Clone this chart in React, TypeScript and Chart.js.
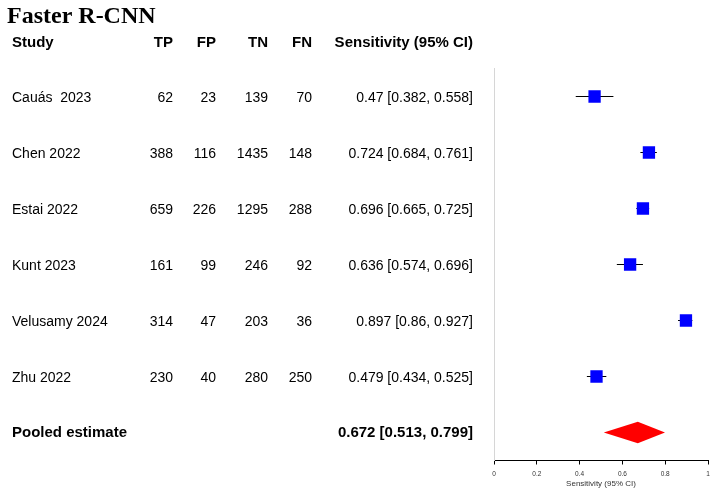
import React, { useEffect, useRef } from "react";
import { Chart, registerables } from "chart.js";

Chart.register(...registerables);

const chartTitle = "Faster R-CNN";
const headers = ["Study", "TP", "FP", "TN", "FN", "Sensitivity (95% CI)"];
const studies = ["Cauás  2023", "Chen 2022", "Estai 2022", "Kunt 2023", "Velusamy 2024", "Zhu 2022"];
const tp = [62, 388, 659, 161, 314, 230];
const fp = [23, 116, 226, 99, 47, 40];
const tn = [139, 1435, 1295, 246, 203, 280];
const fn = [70, 148, 288, 92, 36, 250];
const sensitivity = [0.47, 0.724, 0.696, 0.636, 0.897, 0.479];
const lowerCI = [0.382, 0.684, 0.665, 0.574, 0.86, 0.434];
const upperCI = [0.558, 0.761, 0.725, 0.696, 0.927, 0.525];
const pooledLabel = "Pooled estimate";
const pooledEstimate = 0.672;
const pooledLower = 0.513;
const pooledUpper = 0.799;
const xTicks = [0, 0.2, 0.4, 0.6, 0.8, 1];
const xTickLabels = ["0", "0.2", "0.4", "0.6", "0.8", "1"];
const xAxisTitle = "Sensitivity (95% CI)";

// style constants
const DIAMOND_HALF = 0.19;
const SANS = '"Liberation Sans", Arial, Helvetica, sans-serif';
const COL_X = [12, 173, 216, 268, 312, 473];

const fmtCI = (v: number, lo: number, hi: number) => `${v} [${lo}, ${hi}]`;

const tablePlugin = {
  id: "forestTable",
  afterDraw(chart: any) {
    const ctx: CanvasRenderingContext2D = chart.ctx;
    const ys = chart.scales.y;
    ctx.save();
    ctx.fillStyle = "#000";
    ctx.textAlign = "left";
    ctx.textBaseline = "alphabetic";
    ctx.font = 'bold 24px "Liberation Serif", "Times New Roman", serif';
    ctx.fillText(chartTitle, 7, 23);

    ctx.textBaseline = "middle";
    // header row
    const hy = ys.getPixelForValue(0) + 2.5;
    ctx.font = `bold 15px ${SANS}`;
    headers.forEach((h, i) => {
      ctx.textAlign = i === 0 ? "left" : "right";
      ctx.fillText(h, COL_X[i], hy);
    });

    // study rows
    ctx.font = `14px ${SANS}`;
    studies.forEach((s, i) => {
      const py = ys.getPixelForValue(i + 1) + 1.5;
      const cells = [
        s,
        String(tp[i]),
        String(fp[i]),
        String(tn[i]),
        String(fn[i]),
        fmtCI(sensitivity[i], lowerCI[i], upperCI[i]),
      ];
      cells.forEach((c, j) => {
        ctx.textAlign = j === 0 ? "left" : "right";
        ctx.fillText(c, COL_X[j], py);
      });
    });

    // pooled row
    const pr = ys.getPixelForValue(studies.length + 1) + 0.5;
    ctx.font = `bold 15px ${SANS}`;
    ctx.textAlign = "left";
    ctx.fillText(pooledLabel, COL_X[0], pr);
    ctx.textAlign = "right";
    ctx.fillText(fmtCI(pooledEstimate, pooledLower, pooledUpper), COL_X[5], pr);
    ctx.restore();
  },
};

export default function App() {
  const ref = useRef<HTMLCanvasElement>(null);

  useEffect(() => {
    if (!ref.current) return;
    const rows = studies.map((_, i) => i + 1);
    const pooledRow = studies.length + 1;
    const datasets: any[] = [];

    datasets.push({
      label: "Study estimates",
      data: sensitivity.map((v, i) => ({ x: v, y: rows[i] })),
      showLine: false,
      pointStyle: "rect",
      pointRadius: 8.7,
      pointHoverRadius: 8.7,
      backgroundColor: "#0000FF",
      borderColor: "#0000FF",
      borderWidth: 0,
      order: 0,
    });

    lowerCI.forEach((lo, i) => {
      datasets.push({
        label: "CI " + studies[i],
        data: [
          { x: lo, y: rows[i] },
          { x: upperCI[i], y: rows[i] },
        ],
        showLine: true,
        borderColor: "#000",
        borderWidth: 1,
        pointRadius: 0,
        fill: false,
        order: 1,
      });
    });

    datasets.push({
      label: "Pooled upper",
      data: [
        { x: pooledLower, y: pooledRow },
        { x: pooledEstimate, y: pooledRow - DIAMOND_HALF },
        { x: pooledUpper, y: pooledRow },
      ],
      showLine: true,
      borderColor: "rgba(0,0,0,0)",
      borderWidth: 1,
      pointRadius: 0,
      backgroundColor: "#FF0000",
      fill: "+1",
      tension: 0,
      order: 2,
    });
    datasets.push({
      label: "Pooled lower",
      data: [
        { x: pooledLower, y: pooledRow },
        { x: pooledEstimate, y: pooledRow + DIAMOND_HALF },
        { x: pooledUpper, y: pooledRow },
      ],
      showLine: true,
      borderColor: "rgba(0,0,0,0)",
      borderWidth: 1,
      pointRadius: 0,
      fill: false,
      tension: 0,
      order: 2,
    });

    const chart = new Chart(ref.current, {
      type: "scatter",
      data: { datasets },
      options: {
        animation: false,
        responsive: false,
        maintainAspectRatio: false,
        events: [],
        layout: { padding: { left: 494, right: 14, top: 68.5, bottom: 0 } },
        plugins: {
          legend: { display: false },
          tooltip: { enabled: false },
          title: { display: false },
        },
        scales: {
          x: {
            type: "linear",
            min: 0,
            max: 1,
            afterBuildTicks: (s: any) => {
              s.ticks = xTicks.map((v) => ({ value: v }));
            },
            afterFit: (s: any) => {
              s.height = 37.5;
            },
            ticks: {
              font: { family: SANS, size: 6.5 },
              color: "#333",
              padding: 5.5,
              maxRotation: 0,
              autoSkip: false,
              callback: (_v: any, i: number) => xTickLabels[i],
            },
            grid: {
              display: true,
              drawOnChartArea: false,
              drawTicks: true,
              tickLength: 4,
              color: "#000",
              lineWidth: 1,
            },
            border: { display: true, color: "#000", width: 1 },
            title: {
              display: true,
              text: xAxisTitle,
              font: { family: SANS, size: 8 },
              color: "#333",
              padding: { top: 1, bottom: 9 },
            },
          },
          y: {
            type: "linear",
            min: 0.5,
            max: pooledRow + 0.5,
            reverse: true,
            afterFit: (s: any) => {
              s.width = 0;
            },
            ticks: { display: false },
            grid: { display: false },
            border: { display: true, color: "#d6d6d6", width: 1 },
          },
        },
      } as any,
      plugins: [tablePlugin],
    });
    return () => chart.destroy();
  }, []);

  return (
    <div style={{ position: "fixed", left: 0, top: 0, width: 722, height: 498, background: "#fff" }}>
      <canvas ref={ref} width={722} height={498} style={{ width: 722, height: 498, display: "block" }} />
    </div>
  );
}
